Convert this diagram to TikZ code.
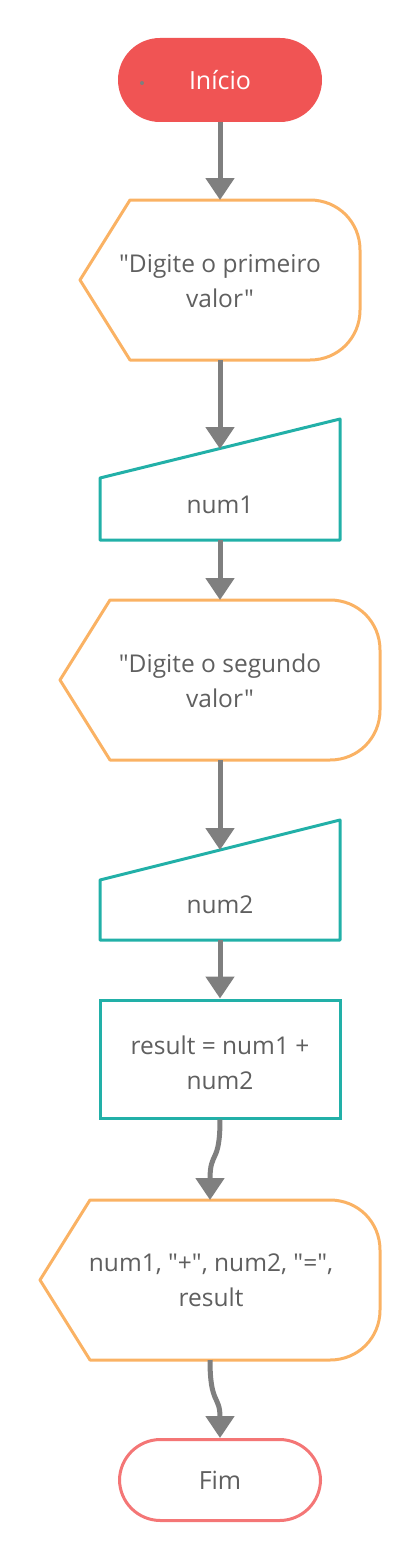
\documentclass[tikz,border=0pt]{standalone}
\usepackage{fontspec}
\setmainfont{Open Sans}[Ligatures=TeXOff]
\usetikzlibrary{arrows.meta}
\definecolor{cred}{RGB}{240,84,84}
\definecolor{cpink}{RGB}{244,118,118}
\definecolor{corange}{RGB}{250,178,100}
\definecolor{cteal}{RGB}{34,176,168}
\definecolor{carrow}{RGB}{127,127,127}
\definecolor{ctext}{RGB}{95,95,95}
\tikzset{
  conn/.style={draw=carrow, line width=5pt, -{Triangle[width=28pt,length=22pt]}},
  txt/.style={text=ctext, align=center, font=\fontsize{24.5}{35}\selectfont, inner sep=0pt},
  outbox/.style={draw=corange, line width=3pt, line join=round},
  inbox/.style={draw=cteal, line width=3pt, line join=round},
}
\begin{document}
\begin{tikzpicture}[x=1pt,y=-1pt]
\useasboundingbox (0,0) rectangle (420,1560);
% Inicio
\node[fill=cred, rounded corners=42pt, minimum width=204pt, minimum height=84pt, inner sep=0pt,
      text=white, font=\fontsize{25}{30}\selectfont] (ini) at (220,80) {Início};
\fill[carrow] (142,83) circle (2pt);
% display 1
\draw[outbox] (80,280) -- (130,200) -- (310,200) .. controls (338,200) and (360,222) .. (360,250)
  -- (360,310) .. controls (360,338) and (338,360) .. (310,360) -- (130,360) -- cycle;
\node[txt] (d1) at (220,281) {"Digite o primeiro\\valor"};
\coordinate (d1t) at (220,200);
\coordinate (d1b) at (220,360);
% num1
\draw[inbox] (100,540) -- (100,478) -- (340,419) -- (340,540) -- cycle;
\node[txt] (n1) at (220,505) {num1};
\coordinate (n1t) at (220,449);
\coordinate (n1b) at (220,540);
% display 2
\draw[outbox] (60,680) -- (110,600) -- (330,600) .. controls (358,600) and (380,622) .. (380,650)
  -- (380,710) .. controls (380,738) and (358,760) .. (330,760) -- (110,760) -- cycle;
\node[txt] (d2) at (220,681) {"Digite o segundo\\valor"};
\coordinate (d2t) at (220,600);
\coordinate (d2b) at (220,760);
% num2
\draw[inbox] (100,940) -- (100,880) -- (340,820) -- (340,940) -- cycle;
\node[txt] (n2) at (220,905) {num2};
\coordinate (n2t) at (220,850);
\coordinate (n2b) at (220,940);
% process
\node[draw=cteal, line width=3pt, minimum width=240pt, minimum height=118pt, inner sep=0pt] (proc) at (220,1059) {};
\node[txt] (proct) at (220,1063) {result = num1 +\\num2};
% display 3
\draw[outbox] (40,1280) -- (90,1200) -- (330,1200) .. controls (358,1200) and (380,1222) .. (380,1250)
  -- (380,1310) .. controls (380,1338) and (358,1360) .. (330,1360) -- (90,1360) -- cycle;
\node[txt] (d3) at (211,1280) {num1, "+", num2, "=",\\result};
\coordinate (d3t) at (210,1200);
\coordinate (d3b) at (210,1360);
% Fim
\node[draw=cpink, line width=3pt, fill=white, rounded corners=41pt, minimum width=201pt, minimum height=81pt, inner sep=0pt,
      text=ctext, font=\fontsize{25}{30}\selectfont] (fim) at (220,1480) {Fim};
% connectors
\draw[conn] (ini.south) -- (d1t);
\draw[conn] (d1b) -- (n1t);
\draw[conn] (n1b) -- (d2t);
\draw[conn] (d2b) -- (n2t);
\draw[conn] (n2b) -- (proc.north);
\draw[conn] (proc.south) .. controls (220,1165) and (210,1150) .. (d3t);
\draw[conn] (d3b) .. controls (210,1405) and (220,1395) .. (fim.north);
\end{tikzpicture}
\end{document}
